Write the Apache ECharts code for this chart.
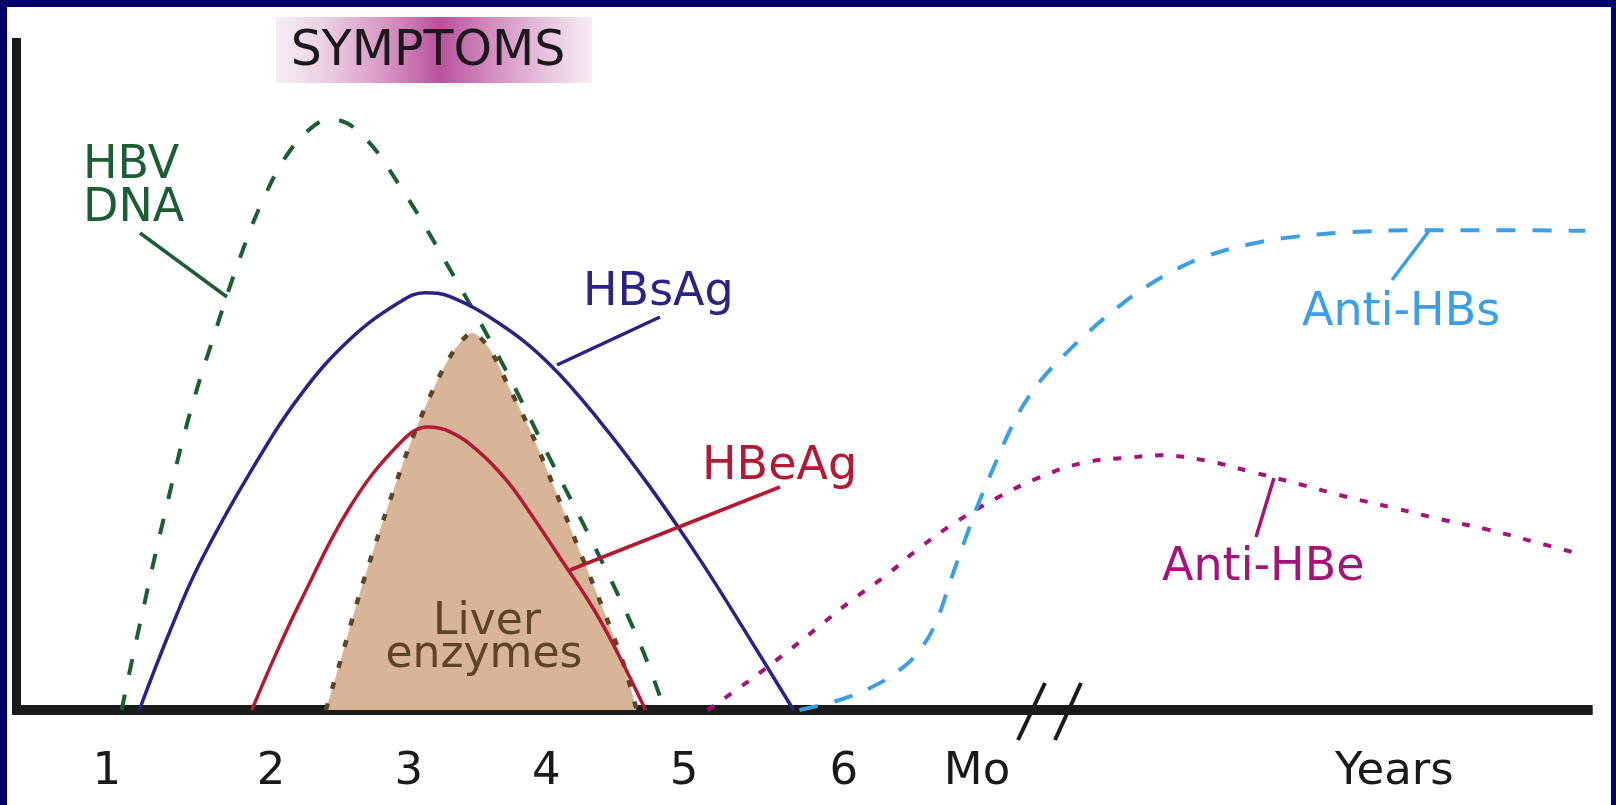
<!DOCTYPE html>
<html>
<head>
<meta charset="utf-8">
<style>
  html, body { margin: 0; padding: 0; background: #ffffff; }
  #chart { width: 1616px; height: 805px; }
</style>
<script src="https://cdn.jsdelivr.net/npm/echarts/dist/echarts.min.js"></script>
</head>
<body>
<div id="chart"></div>
<script>
// ---- tick labels (x axis, positions in "time" units) ----
const tickPositions = [1.01, 2.12, 3.05, 3.98, 4.91, 5.99, 6.89, 9.71];
const tickLabels = ['1', '2', '3', '4', '5', '6', 'Mo', 'Years'];

// ---- series values [time, relative level] ----
const hbvDna = [
  [1.11, 0], [1.23, 12.4], [1.40, 29.0], [1.57, 44.0], [1.74, 56.1], [1.91, 67.3],
  [2.08, 76.6], [2.25, 83.3], [2.42, 87.1], [2.52, 87.9], [2.72, 85.9], [2.99, 78.0],
  [3.33, 65.5], [3.67, 52.1], [4.00, 37.6], [4.34, 22.8], [4.61, 10.0], [4.78, 0]
];
const hbsAg = [
  [1.23, 0], [1.44, 11.9], [1.64, 21.9], [1.98, 35.4], [2.32, 46.9], [2.65, 55.1],
  [2.99, 60.7], [3.16, 62.1], [3.33, 61.5], [3.67, 57.4], [4.00, 51.5], [4.34, 43.0],
  [4.68, 33.2], [5.02, 22.3], [5.36, 10.4], [5.65, 0]
];
const hbeAg = [
  [1.99, 0], [2.15, 8.2], [2.32, 16.2], [2.65, 30.1], [2.99, 39.7], [3.18, 42.1],
  [3.33, 41.4], [3.51, 38.7], [3.71, 34.2], [3.89, 28.7], [4.05, 23.4], [4.34, 13.5], [4.65, 0]
];
const liverEnzymes = [
  [2.49, 0], [2.59, 7.4], [2.72, 17.4], [2.89, 29.0], [3.06, 39.6], [3.23, 48.4],
  [3.36, 53.6], [3.48, 56.1], [3.60, 53.6], [3.73, 47.9], [3.87, 41.7], [4.04, 32.7],
  [4.21, 23.4], [4.38, 14.1], [4.51, 6.3], [4.59, 0]
];
const antiHBe = [
  [5.07, 0], [5.34, 4.2], [5.58, 8.2], [5.81, 12.2], [6.03, 16.1], [6.28, 20.1], [6.50, 24.1],
  [6.75, 28.0], [7.02, 31.5], [7.30, 34.5], [7.61, 36.8], [7.94, 37.6], [8.13, 37.9],
  [8.44, 37.1], [8.75, 35.4], [9.07, 33.6], [9.39, 31.7], [9.70, 30.1], [10.02, 28.4],
  [10.35, 26.8], [10.66, 25.0], [10.98, 23.1]
];
const antiHBs = [
  [5.69, 0], [5.93, 1.3], [6.17, 3.3], [6.37, 6.0], [6.50, 8.8], [6.61, 12.9], [6.71, 19.2],
  [6.81, 25.4], [6.91, 31.3], [7.01, 36.5], [7.11, 41.5], [7.21, 45.6], [7.33, 49.3],
  [7.47, 52.6], [7.62, 55.8], [7.80, 59.2], [7.98, 62.2], [8.18, 64.9], [8.40, 67.2],
  [8.73, 69.3], [9.07, 70.5], [9.41, 71.1], [9.88, 71.4], [10.42, 71.4], [11.00, 71.3]
];

const FONT = 'DejaVu Sans';
const C = {
  green: '#1b5e36', blue: '#2a2384', red: '#b11a32', lightBlue: '#3a9fe6',
  magenta: '#a5137a', brown: '#5c4429', tan: '#d8b597', axis: '#1a1a1a', navy: '#000066'
};

const chart = echarts.init(document.getElementById('chart'), null, { renderer: 'canvas' });

function label(text, x, y, color, size, align) {
  return { type: 'text', x: x, y: y, z: 100,
    style: { text: text, fill: color, fontSize: size || 46, fontFamily: FONT,
      textAlign: align || 'left', textVerticalAlign: 'middle' } };
}
function pointer(x1, y1, x2, y2, color) {
  return { type: 'line', z: 50, shape: { x1: x1, y1: y1, x2: x2, y2: y2 },
    style: { stroke: color, lineWidth: 3.5 } };
}

function lineSeries(name, data, color, dash, width, extra) {
  return Object.assign({
    name: name, type: 'line', data: data, smooth: 0.4, showSymbol: false, symbol: 'none',
    clip: false, animation: false,
    lineStyle: { color: color, width: width || 4, type: dash, cap: 'butt' }
  }, extra || {});
}

const option = {
  backgroundColor: '#ffffff',
  animation: false,
  grid: { left: 16.5, right: 23.3, top: 38, bottom: 95, containLabel: false },
  xAxis: {
    type: 'value', min: 0.4, max: 11.05,
    axisLine: { show: true, lineStyle: { color: C.axis, width: 10, cap: 'butt' } },
    axisTick: { show: false },
    splitLine: { show: false },
    axisLabel: {
      show: true, customValues: tickPositions, margin: 40, hideOverlap: false,
      fontSize: 45, fontFamily: FONT, color: C.axis,
      formatter: function (v) {
        let best = 0, d = Infinity;
        tickPositions.forEach(function (p, i) { if (Math.abs(p - v) < d) { d = Math.abs(p - v); best = i; } });
        return tickLabels[best];
      }
    }
  },
  yAxis: {
    type: 'value', min: 0, max: 100,
    axisLine: { show: true, lineStyle: { color: C.axis, width: 9, cap: 'butt' } },
    axisTick: { show: false }, axisLabel: { show: false }, splitLine: { show: false }
  },
  series: [
    lineSeries('Liver enzymes', liverEnzymes, C.brown, [7, 15], 4.5,
      { areaStyle: { color: C.tan, opacity: 1 }, smooth: 0.3 }),
    lineSeries('HBV DNA', hbvDna, C.green, [16, 20], 4),
    lineSeries('HBsAg', hbsAg, C.blue, 'solid', 3.5),
    lineSeries('HBeAg', hbeAg, C.red, 'solid', 3.5),
    lineSeries('Anti-HBe', antiHBe, C.magenta, [8, 13], 4),
    lineSeries('Anti-HBs', antiHBs, C.lightBlue, [19, 17], 4)
  ],
  graphic: {
    elements: [
      // symptoms band
      { type: 'rect', z: 5, shape: { x: 276, y: 17, width: 316, height: 66 },
        style: { fill: new echarts.graphic.LinearGradient(0, 0, 1, 0, [
          { offset: 0, color: '#f6eef4' }, { offset: 0.15, color: '#ecd0e4' },
          { offset: 0.35, color: '#d794c4' }, { offset: 0.52, color: '#b9529d' },
          { offset: 0.68, color: '#d28cc0' }, { offset: 0.87, color: '#eac8e0' },
          { offset: 1, color: '#f6eef4' } ]) } },
      label('SYMPTOMS', 428, 52, '#1a1a1a', 49, 'center'),
      // curve labels
      label('HBV', 83, 166, C.green),
      label('DNA', 83, 209, C.green),
      pointer(140, 233, 227, 297, C.green),
      label('HBsAg', 583, 293, C.blue),
      pointer(557, 365, 660, 317, C.blue),
      label('HBeAg', 702, 467, C.red),
      pointer(570, 570, 780, 487, C.red),
      label('Anti-HBs', 1302, 313, C.lightBlue),
      pointer(1392, 280, 1429, 231, C.lightBlue),
      label('Anti-HBe', 1162, 568, C.magenta),
      pointer(1256, 537, 1274, 478, C.magenta),
      label('Liver', 487, 623, C.brown, 44, 'center'),
      label('enzymes', 484, 656, C.brown, 44, 'center'),
      // axis break marks
      { type: 'line', z: 60, shape: { x1: 1045, y1: 683, x2: 1018, y2: 740 }, style: { stroke: C.axis, lineWidth: 4 } },
      { type: 'line', z: 60, shape: { x1: 1081, y1: 683, x2: 1055, y2: 740 }, style: { stroke: C.axis, lineWidth: 4 } },
      // corner where axes meet
      { type: 'rect', z: 60, shape: { x: 12, y: 705, width: 9, height: 10 }, style: { fill: C.axis } },
      // navy frame
      { type: 'rect', z: 200, shape: { x: 0, y: 0, width: 1616, height: 7 }, style: { fill: C.navy } },
      { type: 'rect', z: 200, shape: { x: 0, y: 0, width: 7, height: 805 }, style: { fill: C.navy } },
      { type: 'rect', z: 200, shape: { x: 1611, y: 0, width: 5, height: 805 }, style: { fill: C.navy } }
    ]
  }
};
chart.setOption(option);
</script>
</body>
</html>
